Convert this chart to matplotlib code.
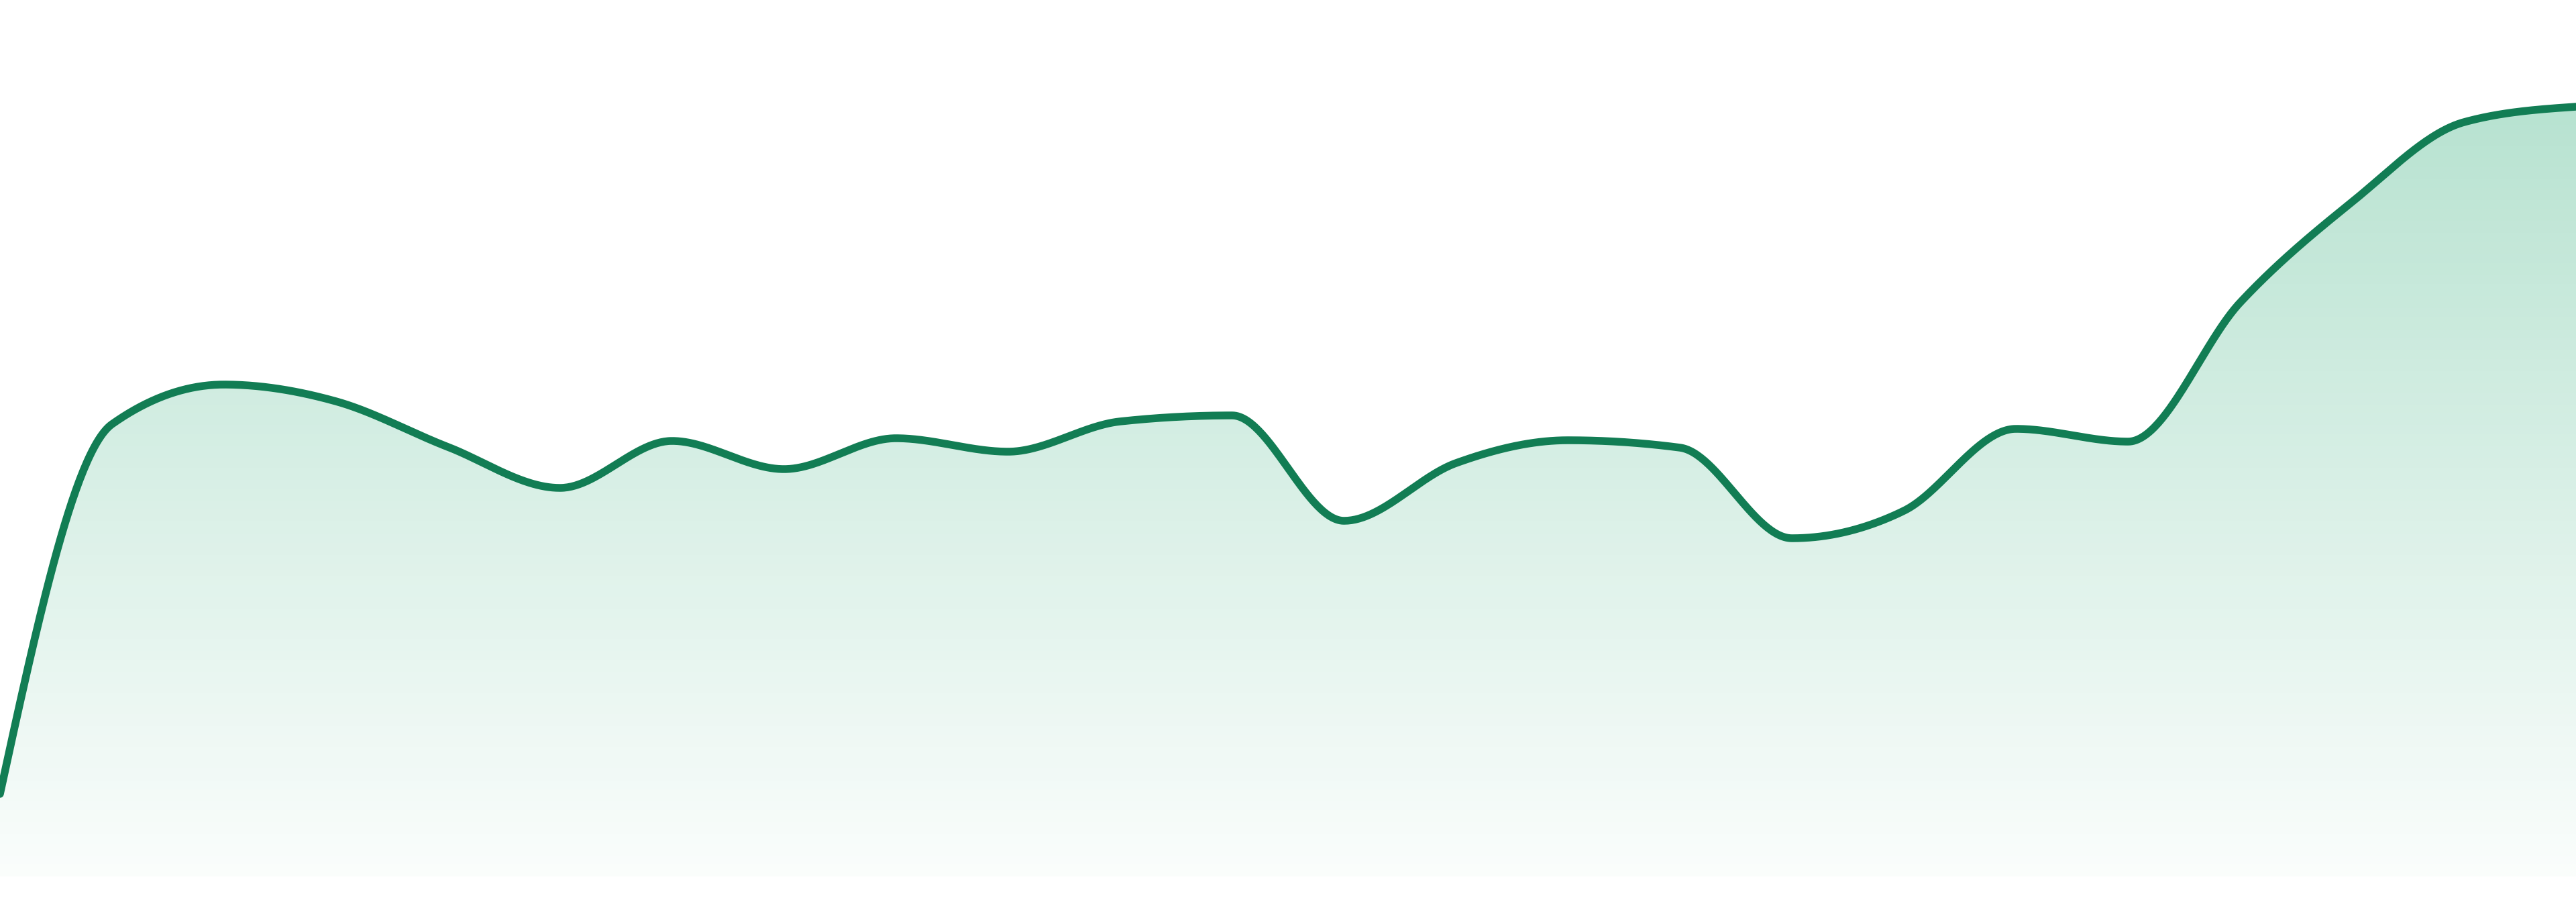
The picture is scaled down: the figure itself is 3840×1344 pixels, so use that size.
import numpy as np
import matplotlib
matplotlib.use('Agg')
import matplotlib.pyplot as plt
from matplotlib.patches import Polygon

# -----------------------------------------------------
# data (24 evenly spaced points)
# -----------------------------------------------------

values = [12.3, 67.4, 73.3, 70.8, 64.0, 57.9, 64.9, 60.7, 65.3, 63.3, 67.8, 68.7,
          53.0, 61.6, 65.0, 63.9, 50.4, 54.5, 66.7, 64.8, 85.5, 100.5, 112.4, 114.7]
x_idx = list(range(len(values)))

line_color = '#127d54'
fill_rgb = (16 / 255, 160 / 255, 100 / 255)


def monotone_x(xs, ys, n=60):
    # same maths as d3.curveMonotoneX
    xs = np.asarray(xs, float)
    ys = np.asarray(ys, float)
    h = np.diff(xs)
    s = np.diff(ys) / h
    t = np.zeros(len(xs))
    for i in range(1, len(xs) - 1):
        p = (s[i - 1] * h[i] + s[i] * h[i - 1]) / (h[i - 1] + h[i])
        t[i] = (np.sign(s[i - 1]) + np.sign(s[i])) * min(abs(s[i - 1]), abs(s[i]), 0.5 * abs(p))
    t[0] = (3 * s[0] - t[1]) / 2
    t[-1] = (3 * s[-1] - t[-2]) / 2
    out_x, out_y = [], []
    u = np.linspace(0, 1, n)
    for i in range(len(xs) - 1):
        dx = h[i] / 3
        px = [xs[i], xs[i] + dx, xs[i + 1] - dx, xs[i + 1]]
        py = [ys[i], ys[i] + dx * t[i], ys[i + 1] - dx * t[i + 1], ys[i + 1]]
        b = [(1 - u) ** 3, 3 * u * (1 - u) ** 2, 3 * u ** 2 * (1 - u), u ** 3]
        out_x.append(sum(bi * pi for bi, pi in zip(b, px)))
        out_y.append(sum(bi * pi for bi, pi in zip(b, py)))
    return np.concatenate(out_x), np.concatenate(out_y)


cx, cy = monotone_x(x_idx, values)

# -----------------------------------------------------
# figure
# -----------------------------------------------------

fig = plt.figure(figsize=(38.4, 13.44), dpi=100, facecolor='white')
ax = fig.add_axes([0, 38 / 1344, 1, 1306 / 1344])
ax.set_xlim(0, len(values) - 1)
ax.set_ylim(0, 130.6)
ax.axis('off')

# gradient area under the curve
verts = np.column_stack([np.r_[cx, cx[-1], cx[0]], np.r_[cy, 0, 0]])
area = Polygon(verts, closed=True, facecolor='none', edgecolor='none')
ax.add_patch(area)

grad = np.zeros((256, 1, 4))
grad[..., 0], grad[..., 1], grad[..., 2] = fill_rgb
grad[:, 0, 3] = np.linspace(0.30, 0.02, 256)
im = ax.imshow(grad, extent=[0, len(values) - 1, 0, max(values)],
               aspect='auto', origin='upper', zorder=1)
im.set_clip_path(area)

ax.plot(cx, cy, color=line_color, lw=8.3, solid_capstyle='round',
        solid_joinstyle='round', zorder=3)

fig.savefig('out.png', dpi=100, facecolor='white')
